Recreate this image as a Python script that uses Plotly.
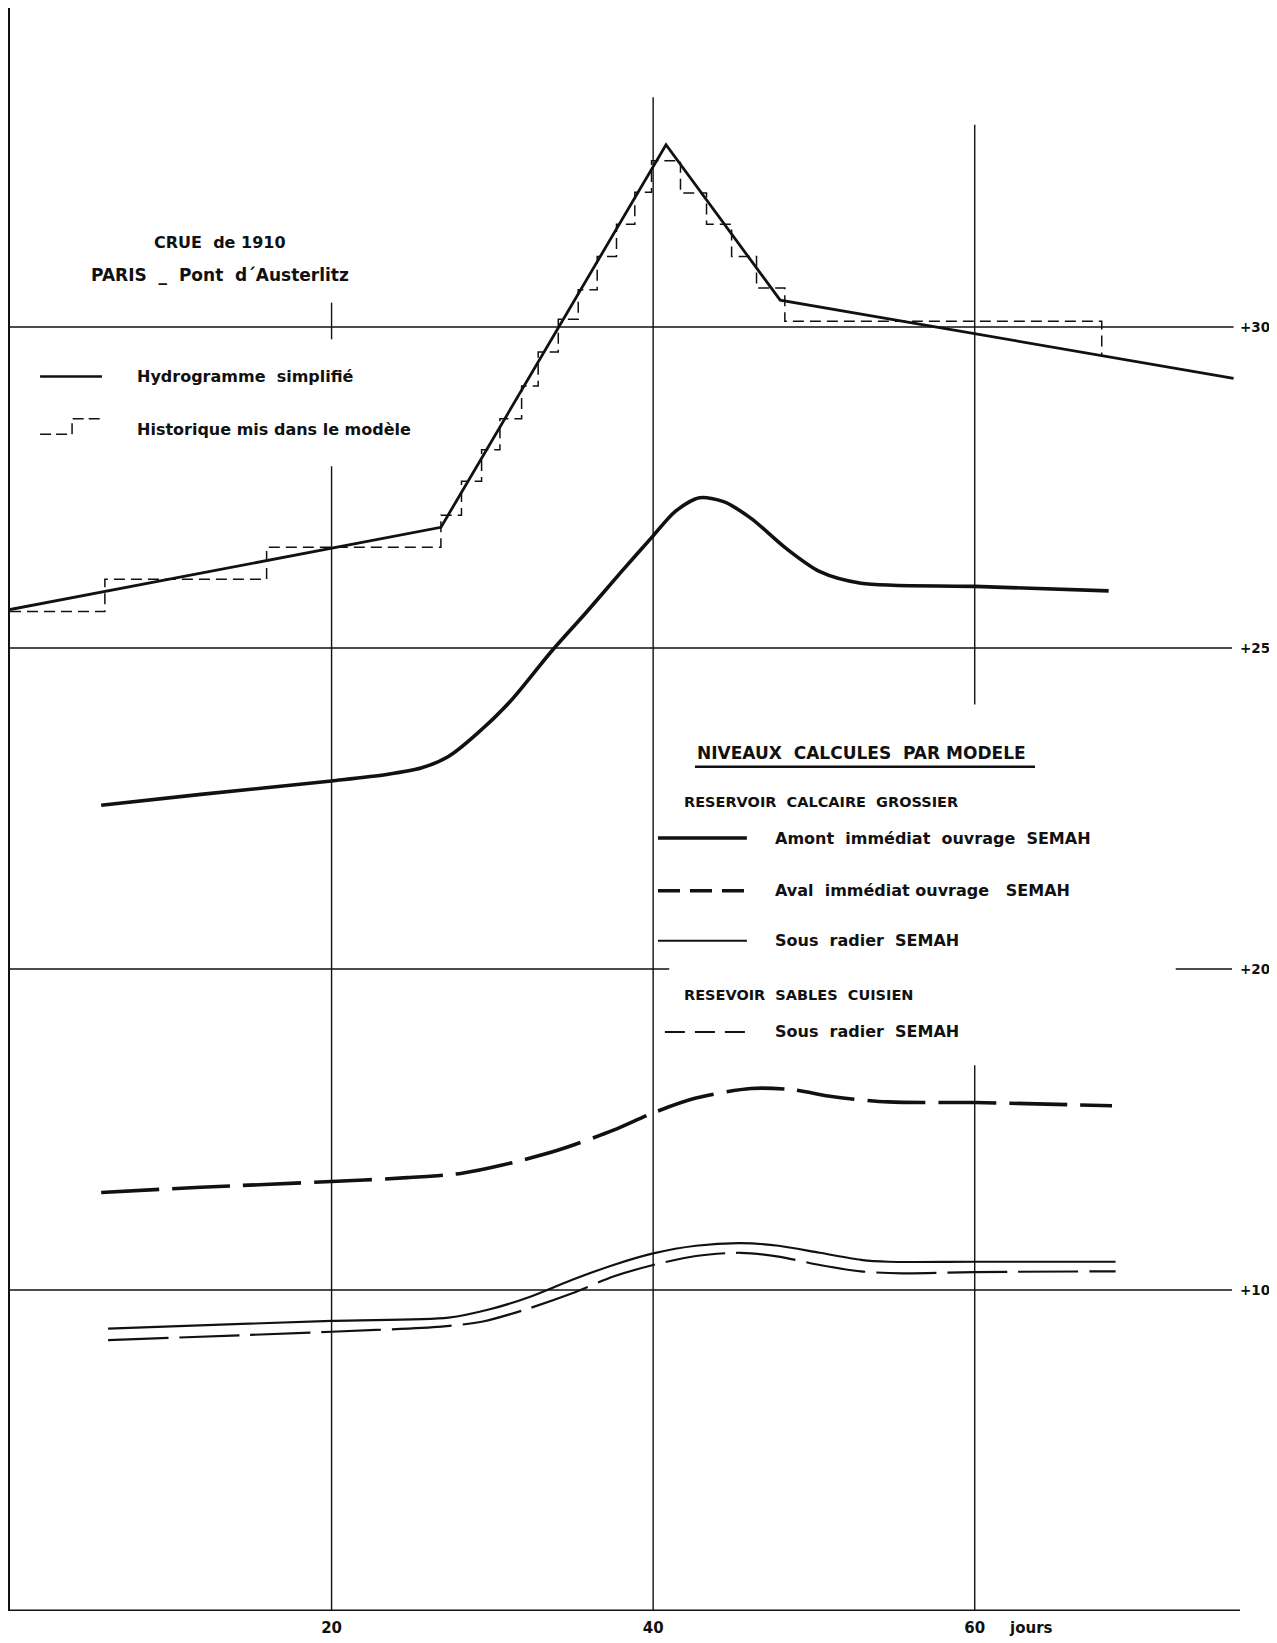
import plotly.graph_objects as go

# Levels are in drawing units: +30 / +25 / +20 are evenly spaced,
# and the "+10" reference line is drawn at the next step (15).

# Hydrogramme simplifie (Paris - Pont d'Austerlitz, crue de 1910)
hydro_days = [0, 26.8, 40.8, 47.9, 76.1]
hydro_level = [25.6, 26.88, 32.84, 30.42, 29.2]

# Historique mis dans le modele (step function)
hist_days = [0, 5.9, 15.96, 26.8, 28.08, 29.33, 30.47, 31.82, 32.85, 34.1, 35.34,
             36.52, 37.72, 38.86, 39.9, 41.7, 43.32, 44.88, 46.43, 48.19, 67.9, 67.9]
hist_level = [25.57, 26.07, 26.57, 27.07, 27.6, 28.09, 28.57, 29.08, 29.61, 30.12, 30.58,
              31.1, 31.6, 32.1, 32.59, 32.09, 31.6, 31.1, 30.61, 30.09, 30.09, 29.55]

# Reservoir calcaire grossier - amont immediat ouvrage SEMAH
amont_days = [5.67, 11.87, 20.0, 23.42, 25.56, 27.27, 28.98, 31.12, 33.68, 35.82, 37.96,
              39.97, 41.38, 42.88, 44.38, 46.09, 48.23, 50.37, 52.93, 60.0, 68.33]
amont_level = [22.55, 22.72, 22.93, 23.03, 23.13, 23.31, 23.65, 24.17, 24.95, 25.55, 26.17,
               26.74, 27.13, 27.34, 27.28, 27.02, 26.56, 26.19, 26.01, 25.96, 25.89]

# Reservoir calcaire grossier - aval immediat ouvrage SEMAH
aval_days = [5.67, 11.87, 20.0, 24.7, 28.12, 30.69, 34.11, 37.53, 40.0, 42.66, 46.08,
             48.65, 51.21, 54.63, 60.0, 68.54]
aval_level = [16.52, 16.6, 16.69, 16.75, 16.82, 16.95, 17.18, 17.49, 17.76, 17.99, 18.14,
              18.12, 18.01, 17.93, 17.92, 17.87]

# Reservoir calcaire grossier - sous radier SEMAH
radier_cg_days = [6.1, 20.0, 27.27, 29.84, 32.4, 34.97, 37.53, 40.0, 42.66, 45.44, 47.8,
                  50.36, 52.93, 54.63, 60.0, 68.76]
radier_cg_level = [14.4, 14.52, 14.57, 14.7, 14.9, 15.16, 15.39, 15.57, 15.69, 15.73, 15.69,
                   15.58, 15.47, 15.44, 15.44, 15.44]

# Reservoir sables cuisien - sous radier SEMAH
radier_sc_days = [6.1, 20.0, 26.84, 29.41, 31.98, 34.97, 37.53, 40.0, 42.66, 45.44, 47.8,
                  50.36, 52.93, 55.5, 60.0, 68.76]
radier_sc_level = [14.22, 14.35, 14.43, 14.51, 14.69, 14.95, 15.21, 15.39, 15.53, 15.58, 15.52,
                   15.39, 15.29, 15.26, 15.28, 15.29]

# reference lines of the drawing
hline_level = [30, 25, 20, 20, 15]
hline_from = [0, 0, 0, 72.5, 0]
hline_to = [76.1, 76.0, 41.0, 76.0, 76.0]
vline_day = [20, 20, 40, 60, 60]
vline_from = [29.81, 10, 10, 24.12, 10]
vline_to = [30.38, 27.83, 33.58, 33.15, 18.5]

level_ticks = [30, 25, 20, 15]
level_labels = ["+30", "+25", "+20", "+10"]
day_ticks = [20, 40, 60]
day_labels = ["20", "40", "60"]

INK = "#111111"
FONT = "DejaVu Sans"

fig = go.Figure()

# grid lines
gx, gy = [], []
for lvl, a, b in zip(hline_level, hline_from, hline_to):
    gx += [a, b, None]
    gy += [lvl, lvl, None]
for d, a, b in zip(vline_day, vline_from, vline_to):
    gx += [d, d, None]
    gy += [a, b, None]
fig.add_trace(go.Scatter(x=gx, y=gy, mode="lines", line=dict(color=INK, width=1.4),
                         hoverinfo="skip"))
# bottom axis
fig.add_trace(go.Scatter(x=[0, 76.5], y=[10, 10], mode="lines",
                         line=dict(color=INK, width=3), hoverinfo="skip"))

# curves
fig.add_trace(go.Scatter(x=hist_days, y=hist_level, mode="lines", line_shape="hv",
                         line=dict(color=INK, width=1.5, dash="11px,6px"), name="Historique"))
fig.add_trace(go.Scatter(x=hydro_days, y=hydro_level, mode="lines",
                         line=dict(color=INK, width=2.8), name="Hydrogramme"))
fig.add_trace(go.Scatter(x=amont_days, y=amont_level, mode="lines", line_shape="spline",
                         line=dict(color=INK, width=3.6, smoothing=0.8), name="Amont"))
fig.add_trace(go.Scatter(x=aval_days, y=aval_level, mode="lines", line_shape="spline",
                         line=dict(color=INK, width=3.6, dash="58px,13px", smoothing=0.8),
                         name="Aval"))
fig.add_trace(go.Scatter(x=radier_cg_days, y=radier_cg_level, mode="lines", line_shape="spline",
                         line=dict(color=INK, width=2.2, smoothing=0.8), name="Sous radier CG"))
fig.add_trace(go.Scatter(x=radier_sc_days, y=radier_sc_level, mode="lines", line_shape="spline",
                         line=dict(color=INK, width=2.2, dash="60px,11px", smoothing=0.8),
                         name="Sous radier SC"))

# legend samples (drawn by hand like the original)
fig.add_trace(go.Scatter(x=[1.87, 5.72], y=[29.23, 29.23], mode="lines",
                         line=dict(color=INK, width=2.6), hoverinfo="skip"))
fig.add_trace(go.Scatter(x=[1.87, 3.86, 5.72], y=[28.33, 28.57, 28.57], mode="lines",
                         line_shape="hv", line=dict(color=INK, width=1.5, dash="11px,5px"),
                         hoverinfo="skip"))
fig.add_trace(go.Scatter(x=[42.6, 63.75], y=[23.15, 23.15], mode="lines",
                         line=dict(color=INK, width=2.6), hoverinfo="skip"))
fig.add_trace(go.Scatter(x=[40.3, 45.83], y=[22.04, 22.04], mode="lines",
                         line=dict(color=INK, width=3.4), hoverinfo="skip"))
fig.add_trace(go.Scatter(x=[40.3, 45.83], y=[21.22, 21.22], mode="lines",
                         line=dict(color=INK, width=3.4, dash="22px,10px"), hoverinfo="skip"))
fig.add_trace(go.Scatter(x=[40.3, 45.83], y=[20.44, 20.44], mode="lines",
                         line=dict(color=INK, width=2.0), hoverinfo="skip"))
fig.add_trace(go.Scatter(x=[40.73, 45.83], y=[19.02, 19.02], mode="lines",
                         line=dict(color=INK, width=2.0, dash="20px,10px"), hoverinfo="skip"))


def label(x, y, text, size=16, anchor="left"):
    fig.add_annotation(x=x, y=y, text=text, showarrow=False, xanchor=anchor, yanchor="middle",
                       font=dict(family=FONT, size=size, color=INK, weight="bold"))


label(13.06, 31.32, "CRUE  de 1910", anchor="center")
label(13.06, 30.81, "PARIS  _  Pont  d´Austerlitz", size=17, anchor="center")
label(7.77, 29.23, "Hydrogramme  simplifié")
label(7.77, 28.41, "Historique mis dans le modèle")
label(42.6, 23.36, "NIVEAUX  CALCULES  PAR MODELE", size=17)
label(41.8, 22.6, "RESERVOIR  CALCAIRE  GROSSIER", size=14.5)
label(47.45, 22.04, "Amont  immédiat  ouvrage  SEMAH")
label(47.45, 21.22, "Aval  immédiat ouvrage   SEMAH")
label(47.45, 20.44, "Sous  radier  SEMAH")
label(41.8, 19.6, "RESEVOIR  SABLES  CUISIEN", size=14.5)
label(47.45, 19.02, "Sous  radier  SEMAH")

for lvl, txt in zip(level_ticks, level_labels):
    label(76.4, lvl, txt, size=13.5)

fig.add_annotation(x=62.0, y=10, text="jours", showarrow=False, xanchor="left", yanchor="top",
                   yshift=-6, font=dict(family=FONT, size=15, color=INK, weight="bold"))

# the page body adds an 8px offset, so the figure is 8px smaller than the window
fig.update_layout(
    width=1269,
    height=1635,
    margin=dict(l=2, r=0, t=0, b=32),
    plot_bgcolor="white",
    paper_bgcolor="white",
    showlegend=False,
    xaxis=dict(range=[0, 78.8], showgrid=False, zeroline=False, showline=False,
               tickmode="array", tickvals=day_ticks, ticktext=day_labels, ticks="",
               ticklabelstandoff=6,
               tickfont=dict(family=FONT, size=15, color=INK, weight="bold")),
    yaxis=dict(range=[10, 34.97], showgrid=False, zeroline=False, showticklabels=False,
               showline=True, linecolor=INK, linewidth=2.6, ticks=""),
)

fig.write_html("out.html")
